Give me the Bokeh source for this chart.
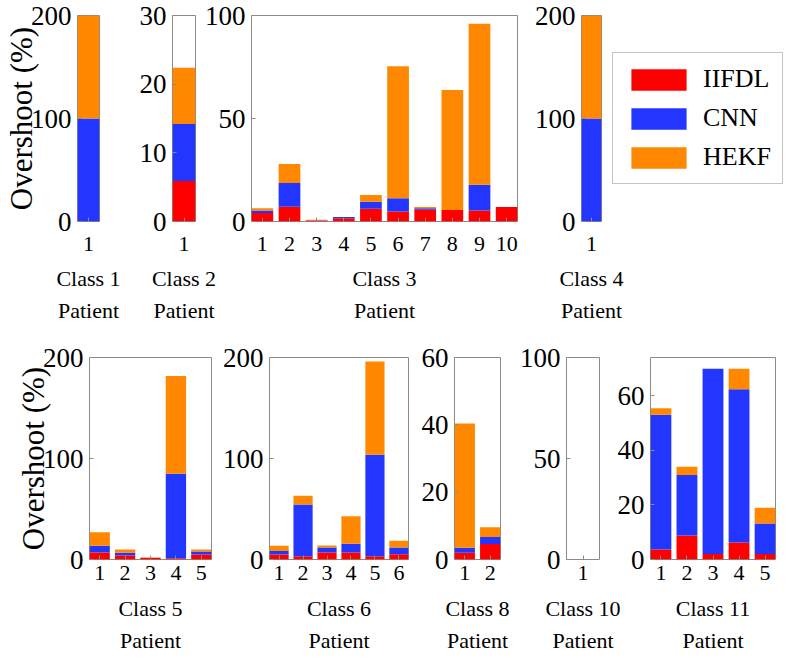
from bokeh.plotting import figure
from bokeh.models import Range1d, FixedTicker, Legend, LegendItem
from bokeh.layouts import row, column
from bokeh.core.properties import value
from bokeh.embed import file_html
from bokeh.resources import INLINE

series_names = ["IIFDL", "CNN", "HEKF"]
colors = ["#FF0000", "#2236FF", "#FF8800"]

c1_iifdl = [0.0]
c1_cnn = [100.0]
c1_hekf = [100.0]

c2_iifdl = [5.9]
c2_cnn = [8.3]
c2_hekf = [8.2]

c3_iifdl = [4.1, 7.2, 0.5, 1.6, 6.2, 4.8, 5.7, 5.6, 5.4, 7.0]
c3_cnn = [1.3, 11.5, 0.1, 0.6, 3.4, 6.5, 0.7, 0.0, 12.5, 0.0]
c3_hekf = [1.0, 9.2, 0.2, 0.0, 3.3, 64.1, 0.6, 58.2, 78.1, 0.0]

c4_iifdl = [0.0]
c4_cnn = [100.0]
c4_hekf = [100.0]

c5_iifdl = [6.9, 4.0, 1.7, 1.3, 5.0]
c5_cnn = [6.6, 2.6, 0.0, 83.5, 2.9]
c5_hekf = [13.6, 3.3, 0.3, 97.0, 2.0]

c6_iifdl = [5.0, 3.3, 6.9, 6.9, 3.3, 5.3]
c6_cnn = [3.3, 51.2, 5.0, 8.6, 100.3, 6.6]
c6_hekf = [5.2, 8.5, 2.0, 27.4, 92.4, 6.6]

c8_iifdl = [2.0, 4.6]
c8_cnn = [1.5, 2.1]
c8_hekf = [36.9, 2.9]

c10_iifdl = [0.0]
c10_cnn = [0.0]
c10_hekf = [0.0]

c11_iifdl = [3.7, 8.8, 2.0, 6.2, 2.0]
c11_cnn = [49.3, 22.2, 67.9, 56.2, 11.2]
c11_hekf = [2.4, 3.0, 0.0, 7.5, 5.8]

top_classes = ["Class 1", "Class 2", "Class 3", "Class 4"]
bottom_classes = ["Class 5", "Class 6", "Class 8", "Class 10", "Class 11"]
x_word = "Patient"
y_title = "Overshoot (%)"

FONT = "Liberation Serif"
FONT_V = value(FONT)
GRAY = "#8a8a8a"
W = 786


def panel(iifdl, cnn, hekf, ymax, yticks, ylabel, spec, bt, fh, bb, xstand):
    bl, fw, br = spec
    n = len(iifdl)
    xs = list(range(1, n + 1))
    p = figure(output_backend="svg", toolbar_location=None,
               frame_width=fw, frame_height=fh,
               min_border_left=bl, min_border_right=br,
               min_border_top=bt, min_border_bottom=bb,
               x_range=Range1d(0.6, n + 0.4), y_range=Range1d(0, ymax))
    data = {"x": xs, "IIFDL": iifdl, "CNN": cnn, "HEKF": hekf}
    rs = p.vbar_stack(series_names, x="x", width=0.8, color=colors,
                      line_color=None, source=data)
    p.xgrid.grid_line_color = None
    p.ygrid.grid_line_color = None
    p.outline_line_color = GRAY
    p.outline_line_width = 1
    p.border_fill_color = "white"

    xa = p.xaxis[0]
    xa.ticker = FixedTicker(ticks=xs)
    ya = p.yaxis[0]
    ya.ticker = FixedTicker(ticks=yticks)
    for ax in (xa, ya):
        ax.axis_line_color = None
        ax.major_tick_in = 4
        ax.major_tick_out = 0
        ax.major_tick_line_color = GRAY
        ax.minor_tick_line_color = None
        ax.major_label_text_font = FONT
        ax.major_label_text_color = "black"
        ax.axis_label_text_font = FONT
        ax.axis_label_text_font_style = "normal"
        ax.axis_label_text_color = "black"
    xa.major_label_text_font_size = "22px"
    ya.major_label_text_font_size = "27px"
    xa.major_label_standoff = xstand
    ya.major_label_standoff = 6
    if ylabel:
        ya.axis_label = ylabel
        ya.axis_label_text_font_size = "31px"
        ya.axis_label_standoff = -11
    return p, rs


def strip(specs, names, h, y1, y2):
    s = figure(output_backend="svg", toolbar_location=None,
               width=W, height=h, min_border=0,
               x_range=Range1d(0, W), y_range=Range1d(0, h),
               x_axis_location=None, y_axis_location=None)
    s.outline_line_color = None
    s.xgrid.grid_line_color = None
    s.ygrid.grid_line_color = None
    centers = []
    off = 0
    for bl, fw, br in specs:
        centers.append(off + bl + fw / 2)
        off += bl + fw + br
    s.text(x=centers, y=[h - y1] * len(centers), text=names,
           text_font=FONT_V, text_font_size="22px", text_align="center",
           text_baseline="middle", text_color="black")
    s.text(x=centers, y=[h - y2] * len(centers), text=[x_word] * len(centers),
           text_font=FONT_V, text_font_size="22px", text_align="center",
           text_baseline="middle", text_color="black")
    return s


TB, TH, TBB = 15, 206, 40
BT, BH, BBB = 27, 202, 33

top_specs = [(77, 22, 5), (68, 23, 5), (51, 266, 5), (59, 20, 4)]
bot_specs = [(89, 122, 5), (53, 139, 5), (41, 46, 5), (61, 33, 5),
             (46, 125, W - 650 - 125)]

f1, _ = panel(c1_iifdl, c1_cnn, c1_hekf, 200, [0, 100, 200], y_title,
              top_specs[0], TB, TH, TBB, 15)
f2, _ = panel(c2_iifdl, c2_cnn, c2_hekf, 30, [0, 10, 20, 30], None,
              top_specs[1], TB, TH, TBB, 15)
f3, _ = panel(c3_iifdl, c3_cnn, c3_hekf, 100, [0, 50, 100], None,
              top_specs[2], TB, TH, TBB, 15)
f4, _ = panel(c4_iifdl, c4_cnn, c4_hekf, 200, [0, 100, 200], None,
              top_specs[3], TB, TH, TBB, 15)

# legend panel: its own small figure to the right of Class 4,
# with the same top/bottom borders so the row stays aligned
used = sum(bl + fw + br for bl, fw, br in top_specs)
lw = W - used
lf = figure(output_backend="svg", toolbar_location=None,
            frame_width=lw, frame_height=TH,
            min_border_left=0, min_border_top=TB,
            min_border_right=0, min_border_bottom=TBB,
            x_range=Range1d(0, 1), y_range=Range1d(0, 1),
            x_axis_location=None, y_axis_location=None)
lf.outline_line_color = None
lf.xgrid.grid_line_color = None
lf.ygrid.grid_line_color = None
key_src = {"x": [1], "IIFDL": c4_iifdl, "CNN": c4_cnn, "HEKF": c4_hekf}
lr = lf.vbar_stack(series_names, x="x", width=0.8, color=colors,
                   line_color=None, source=key_src)
for r in lr:
    r.visible = False
legend = Legend(items=[LegendItem(label=value(name), renderers=[r])
                       for name, r in zip(series_names, lr)],
                location="center_left", glyph_width=69, glyph_height=27,
                label_height=27, label_text_font=FONT,
                label_text_font_size="26px", label_text_baseline="middle",
                label_text_color="black",
                spacing=9, padding=11, margin=7, label_standoff=10,
                border_line_color=GRAY, border_line_width=1,
                background_fill_color="white", background_fill_alpha=1.0,
                inactive_fill_alpha=0.0)
lf.add_layout(legend, "center")

f5, _ = panel(c5_iifdl, c5_cnn, c5_hekf, 200, [0, 100, 200], y_title,
              bot_specs[0], BT, BH, BBB, 6)
f6, _ = panel(c6_iifdl, c6_cnn, c6_hekf, 200, [0, 100, 200], None,
              bot_specs[1], BT, BH, BBB, 6)
f8, _ = panel(c8_iifdl, c8_cnn, c8_hekf, 60, [0, 20, 40, 60], None,
              bot_specs[2], BT, BH, BBB, 6)
f10, _ = panel(c10_iifdl, c10_cnn, c10_hekf, 100, [0, 50, 100], None,
               bot_specs[3], BT, BH, BBB, 6)
f11, _ = panel(c11_iifdl, c11_cnn, c11_hekf, 74, [0, 20, 40, 60], None,
               bot_specs[4], BT, BH, BBB, 6)

s1 = strip(top_specs, top_classes, 69, 17, 49)
s2 = strip(bot_specs, bottom_classes, 66, 16, 48)

layout = column(row(f1, f2, f3, f4, lf), s1,
                row(f5, f6, f8, f10, f11), s2)

open("out.html", "w").write(file_html(layout, INLINE))
